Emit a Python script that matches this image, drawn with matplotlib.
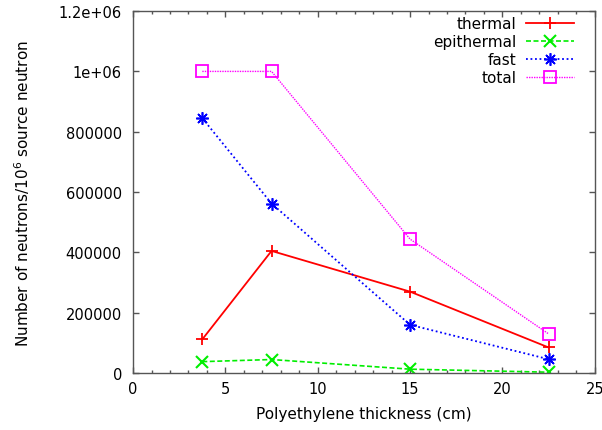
import matplotlib
matplotlib.use("Agg")
import matplotlib.pyplot as plt
from matplotlib.ticker import MultipleLocator, FixedLocator, FixedFormatter

plt.rcParams['font.family'] = ['DejaVu Sans']

thickness = [3.75, 7.5, 15, 22.5]
thermal = [112000, 405000, 270000, 85000]
epithermal = [38000, 45000, 13000, 3000]
fast = [845000, 562000, 160000, 46000]
total = [1000000, 1000000, 444000, 130000]

series_names = ['thermal', 'epithermal', 'fast', 'total']
x_ticks = [0, 5, 10, 15, 20, 25]
y_ticks = [0, 200000, 400000, 600000, 800000, 1000000, 1200000]
y_tick_labels = ['0', '200000', '400000', '600000', '800000', '1e+06', '1.2e+06']

fig = plt.figure(figsize=(6.02, 4.31), dpi=100)
ax = fig.add_axes([0.221, 0.132, 0.767, 0.840])

styles = [
    dict(color='#ff0000', linestyle='-', lw=1.3, marker='+', ms=9, mew=1.3),
    dict(color='#00ee00', linestyle=(0, (3, 1.5)), lw=1.2, marker='x', ms=8, mew=1.5),
    dict(color='#0000ff', linestyle=(0, (1, 1.5)), lw=1.3, marker=(8, 2, 0), ms=9, mew=1.2),
    dict(color='#ff00ff', linestyle=(0, (1, 0.8)), lw=1.0, marker='s', ms=8, mew=1.3, mfc='none'),
]
data = [thermal, epithermal, fast, total]
handles = []
for name, vals, st in zip(series_names, data, styles):
    h, = ax.plot(thickness, vals, label=name, **st)
    handles.append(h)

ax.set_xlim(0, 25)
ax.set_ylim(0, 1200000)
ax.xaxis.set_major_locator(FixedLocator(x_ticks))
ax.xaxis.set_minor_locator(MultipleLocator(1))
ax.yaxis.set_major_locator(FixedLocator(y_ticks))
ax.yaxis.set_major_formatter(FixedFormatter(y_tick_labels))

ax.tick_params(axis='both', which='major', direction='in', length=4.5, width=1,
               top=True, right=True, labelsize=10.5, color='#555555')
ax.tick_params(axis='x', which='major', pad=6)
ax.tick_params(axis='y', which='major', pad=8)
ax.tick_params(axis='x', which='minor', direction='in', length=2.5, width=1,
               top=True, bottom=True, color='#555555')
for sp in ax.spines.values():
    sp.set_color('#555555')
    sp.set_linewidth(1)

ax.set_xlabel('Polyethylene thickness (cm)', fontsize=11, labelpad=7)
ax.set_ylabel('Number of neutrons/10$^6$ source neutron', fontsize=11, labelpad=19)

# gnuplot-style key: right-aligned texts, one entry per legend box
y0 = 0.985
dy = 0.0495
for i, h in enumerate(handles):
    leg = ax.legend([h], [series_names[i]], loc='upper right',
                    bbox_to_anchor=(0.9545, y0 - i * dy), frameon=False,
                    markerfirst=False, handlelength=3.1, handletextpad=0.65,
                    borderpad=0, borderaxespad=0, fontsize=11, numpoints=1)
    ax.add_artist(leg)
ax.legend_ = None

fig.savefig('out.png', dpi=100)
